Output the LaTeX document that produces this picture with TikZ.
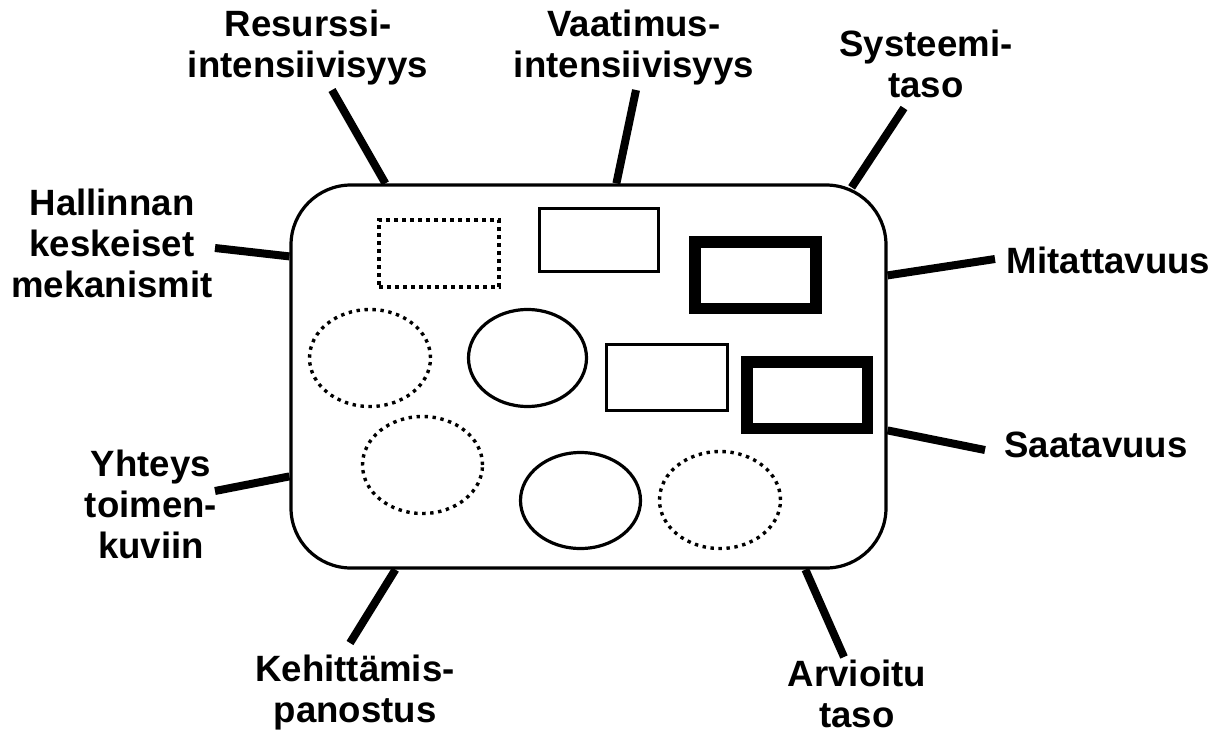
\documentclass[tikz,border=0pt]{standalone}
\usepackage{fontspec}
\setmainfont{Liberation Sans}
\usetikzlibrary{shapes.geometric}
\begin{document}
\begin{tikzpicture}[x=1pt,y=-1pt,
  lbl/.style={font=\bfseries\fontsize{36.6pt}{41pt}\selectfont, align=center, inner sep=0pt, anchor=base},
  spoke/.style={line width=8pt},
  shp/.style={inner sep=0pt},
  thinbox/.style={shp, draw, line width=3pt},
  heavybox/.style={shp, draw, line width=11.5pt},
  dotbox/.style={shp, draw, line width=3.8pt, dash pattern=on 3.8pt off 4.2pt},
  plainoval/.style={shp, ellipse, draw, line width=3.2pt},
  dotoval/.style={shp, ellipse, draw, line width=3.4pt, dash pattern=on 3.4pt off 4.6pt}]
\useasboundingbox (0,0) rectangle (1226,733);

% main container
\node[shp, draw, line width=3.2pt, rounded corners=60pt, minimum width=595pt, minimum height=383pt] (box) at (588.5,376.5) {};

% rectangles inside
\node[dotbox, minimum width=120pt, minimum height=67pt] (r1) at (439,253.5) {};
\node[thinbox, minimum width=119pt, minimum height=63pt] (r2) at (599,240) {};
\node[heavybox, minimum width=121pt, minimum height=66.5pt] (r3) at (755.5,275) {};
\node[thinbox, minimum width=121pt, minimum height=66pt] (r4) at (667,377.5) {};
\node[heavybox, minimum width=120.5pt, minimum height=66.5pt] (r5) at (807,395) {};

% ellipses inside
\node[dotoval, minimum width=121pt, minimum height=97pt] (e1) at (370,358) {};
\node[plainoval, minimum width=118pt, minimum height=97pt] (e2) at (527.5,358) {};
\node[dotoval, minimum width=120pt, minimum height=97pt] (e3) at (422.5,465) {};
\node[plainoval, minimum width=120pt, minimum height=96pt] (e4) at (580.5,500.5) {};
\node[dotoval, minimum width=121pt, minimum height=97pt] (e5) at (720,500) {};

% labels (base anchor sits on the last line)
\node[lbl] (lres) at (308,78) {Resurssi-\\intensiivisyys};
\node[lbl] (lvaa) at (634,78) {Vaatimus-\\intensiivisyys};
\node[lbl] (lsys) at (926,98) {Systeemi-\\taso};
\node[lbl] (lhal) at (112,297) {Hallinnan\\keskeiset\\mekanismit};
\node[lbl] (lmit) at (1108.5,273) {Mitattavuus};
\node[lbl] (lsaa) at (1096,457) {Saatavuus};
\node[lbl] (lyht) at (151,558) {Yhteys\\toimen-\\kuviin};
\node[lbl] (lkeh) at (355,722) {Kehittämis-\\panostus};
\node[lbl] (larv) at (857,727) {Arvioitu\\taso};

% free ends of the spokes, next to their labels
\coordinate (pres) at (332,90);
\coordinate (pvaa) at (636,90);
\coordinate (psys) at (904,108);
\coordinate (phal) at (215,248);
\coordinate (pmit) at (995,259);
\coordinate (psaa) at (985,450);
\coordinate (pyht) at (215,491);
\coordinate (pkeh) at (350,643);
\coordinate (parv) at (844,657);

% spokes from the labels to the container
\draw[spoke] (pres) -- ([xshift=96pt]box.north west);
\draw[spoke] (pvaa) -- ([xshift=327pt]box.north west);
\draw[spoke] (psys) -- ([xshift=-36pt,yshift=-4pt]box.north east);
\draw[spoke] (phal) -- ([yshift=-73pt]box.north west);
\draw[spoke] (pyht) -- ([yshift=-293pt]box.north west);
\draw[spoke] (pmit) -- ([yshift=-92pt]box.north east);
\draw[spoke] (psaa) -- ([yshift=-247pt]box.north east);
\draw[spoke] (pkeh) -- ([xshift=106pt]box.south west);
\draw[spoke] (parv) -- ([xshift=516pt]box.south west);
\end{tikzpicture}
\end{document}
